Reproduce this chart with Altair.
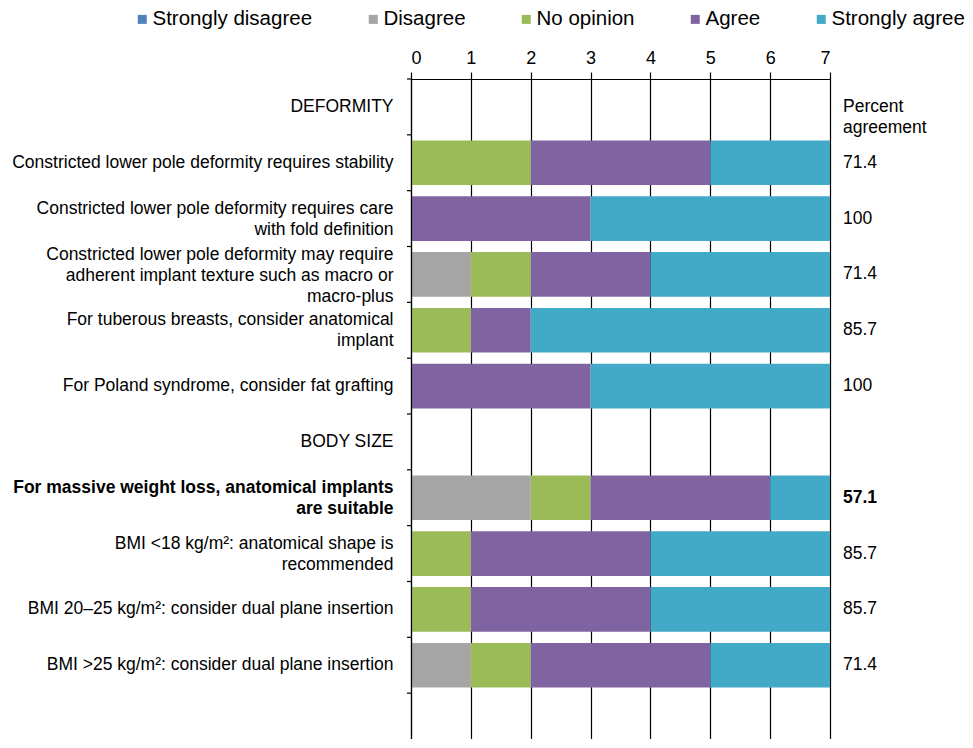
import altair as alt
import pandas as pd

# ---- data ----
rows = [
    "DEFORMITY",
    "Constricted lower pole deformity requires stability",
    "Constricted lower pole deformity requires care|with fold definition",
    "Constricted lower pole deformity may require|adherent implant texture such as macro or|macro-plus",
    "For tuberous breasts, consider anatomical|implant",
    "For Poland syndrome, consider fat grafting",
    "BODY SIZE",
    "For massive weight loss, anatomical implants|are suitable",
    "BMI <18 kg/m²: anatomical shape is|recommended",
    "BMI 20–25 kg/m²: consider dual plane insertion",
    "BMI >25 kg/m²: consider dual plane insertion",
    " ",
]
statements = [rows[i] for i in (1, 2, 3, 4, 5, 7, 8, 9, 10)]
responses = ["Strongly disagree", "Disagree", "No opinion", "Agree", "Strongly agree"]
colors = ["#4F81BD", "#A5A5A5", "#9BBB59", "#8064A2", "#42A9C6"]

strongly_disagree = [0, 0, 0, 0, 0, 0, 0, 0, 0]
disagree = [0, 0, 1, 0, 0, 2, 0, 0, 1]
no_opinion = [2, 0, 1, 1, 0, 1, 1, 1, 1]
agree = [3, 3, 2, 1, 3, 3, 3, 3, 3]
strongly_agree = [2, 4, 3, 5, 4, 1, 3, 3, 2]
percent_agreement = ["71.4", "100", "71.4", "85.7", "100", "57.1", "85.7", "85.7", "71.4"]
bold_statement = "For massive weight loss, anatomical implants|are suitable"
pct_header = "Percent|agreement"
x_ticks = [0, 1, 2, 3, 4, 5, 6, 7]

series = [strongly_disagree, disagree, no_opinion, agree, strongly_agree]
recs = []
for si, s in enumerate(statements):
    start = 0
    for ri, (resp, vals) in enumerate(zip(responses, series)):
        v = vals[si]
        if v > 0:
            recs.append({"row": s, "response": resp, "x0": start, "x1": start + v})
        start += v
bars_df = pd.DataFrame(recs)

pct_df = pd.DataFrame({
    "row": statements,
    "pct": percent_agreement,
    "bold": [s == bold_statement for s in statements],
    "xpos": [7] * len(statements),
})
head_df = pd.DataFrame({"row": ["DEFORMITY"], "txt": [pct_header], "xpos": [7]})
tick_df = pd.DataFrame({"row": rows})

FONT = "Liberation Sans"
W, H = 419, 660
STEP = 670 / len(rows)

y_scale = alt.Scale(domain=rows, range=[0, 670], paddingInner=0.2, paddingOuter=0.1)
x_scale = alt.Scale(domain=[0, 7], nice=False)

y_axis = alt.Axis(
    labelExpr="split(datum.value, '|')",
    labelFontSize=17.5,
    labelLineHeight=21,
    labelLimit=420,
    labelPadding=18,
    labelColor="#000000",
    labelFontWeight=alt.condition(
        "indexof(datum.value, 'massive') >= 0", alt.value("bold"), alt.value("normal")
    ),
    labelOffset={
        "condition": [
            {"test": "length(split(datum.value, '|')) == 3", "value": -19.5},
            {"test": "length(split(datum.value, '|')) == 2", "value": -10},
        ],
        "value": 0,
    },
    ticks=False,
    domainColor="#000000",
    domainWidth=1.2,
    grid=False,
    zindex=1,
)

bars = alt.Chart(bars_df).mark_bar().encode(
    x=alt.X(
        "x0:Q",
        scale=x_scale,
        title=None,
        axis=alt.Axis(
            orient="top",
            values=x_ticks,
            format="d",
            grid=True,
            gridColor="#000000",
            gridWidth=1.2,
            gridOpacity=1,
            domainColor="#000000",
            domainWidth=1.2,
            tickColor="#000000",
            tickSize=7,
            tickWidth=1.2,
            labelFontSize=18,
            labelPadding=5,
            labelColor="#000000",
        ),
    ),
    x2="x1:Q",
    y=alt.Y("row:N", scale=y_scale, title=None, axis=y_axis),
    color=alt.Color(
        "response:N",
        scale=alt.Scale(domain=responses, range=colors),
        legend=alt.Legend(
            title=None,
            orient="none",
            direction="horizontal",
            columns=5,
            legendX=-279,
            legendY=-70,
            symbolType="square",
            symbolSize=81,
            symbolStrokeWidth=0,
            labelFontSize=20.5,
            labelColor="#000000",
            labelOffset=0,
            columnPadding=50,
            padding=0,
            labelLimit=300,
        ),
    ),
)

pct_normal = alt.Chart(pct_df).transform_filter("!datum.bold").mark_text(
    align="left", baseline="middle", dx=13, fontSize=17.5, color="#000000"
).encode(
    x=alt.X("xpos:Q", scale=x_scale, title=None),
    y=alt.Y("row:N", scale=y_scale, title=None),
    text=alt.Text("pct:N"),
)

pct_bold = alt.Chart(pct_df).transform_filter("datum.bold").mark_text(
    align="left", baseline="middle", dx=13, fontSize=17.5, color="#000000", fontWeight="bold"
).encode(
    x=alt.X("xpos:Q", scale=x_scale, title=None),
    y=alt.Y("row:N", scale=y_scale, title=None),
    text=alt.Text("pct:N"),
)

head_text = alt.Chart(head_df).mark_text(
    align="left", baseline="middle", dx=13, dy=0, fontSize=17.5, lineBreak="|",
    lineHeight=21, color="#000000"
).encode(
    x=alt.X("xpos:Q", scale=x_scale, title=None),
    y=alt.Y("row:N", scale=y_scale, title=None),
    text="txt:N",
)

# small ticks at the row boundaries of the left axis
row_ticks = alt.Chart(tick_df).mark_rule(
    color="#000000", strokeWidth=1.2, yOffset=-STEP / 2
).encode(
    y=alt.Y("row:N", scale=y_scale, title=None),
    x=alt.value(-4),
    x2=alt.value(0),
)

chart = alt.layer(bars, pct_normal, pct_bold, head_text, row_ticks).properties(
    width=W,
    height=H,
    autosize=alt.AutoSizeParams(type="none"),
    padding={"left": 403, "top": 71, "right": 135, "bottom": 0},
).configure(
    font=FONT,
).configure_view(
    stroke=None
)

chart.save("out.html", embed_options={"renderer": "svg", "actions": False})
